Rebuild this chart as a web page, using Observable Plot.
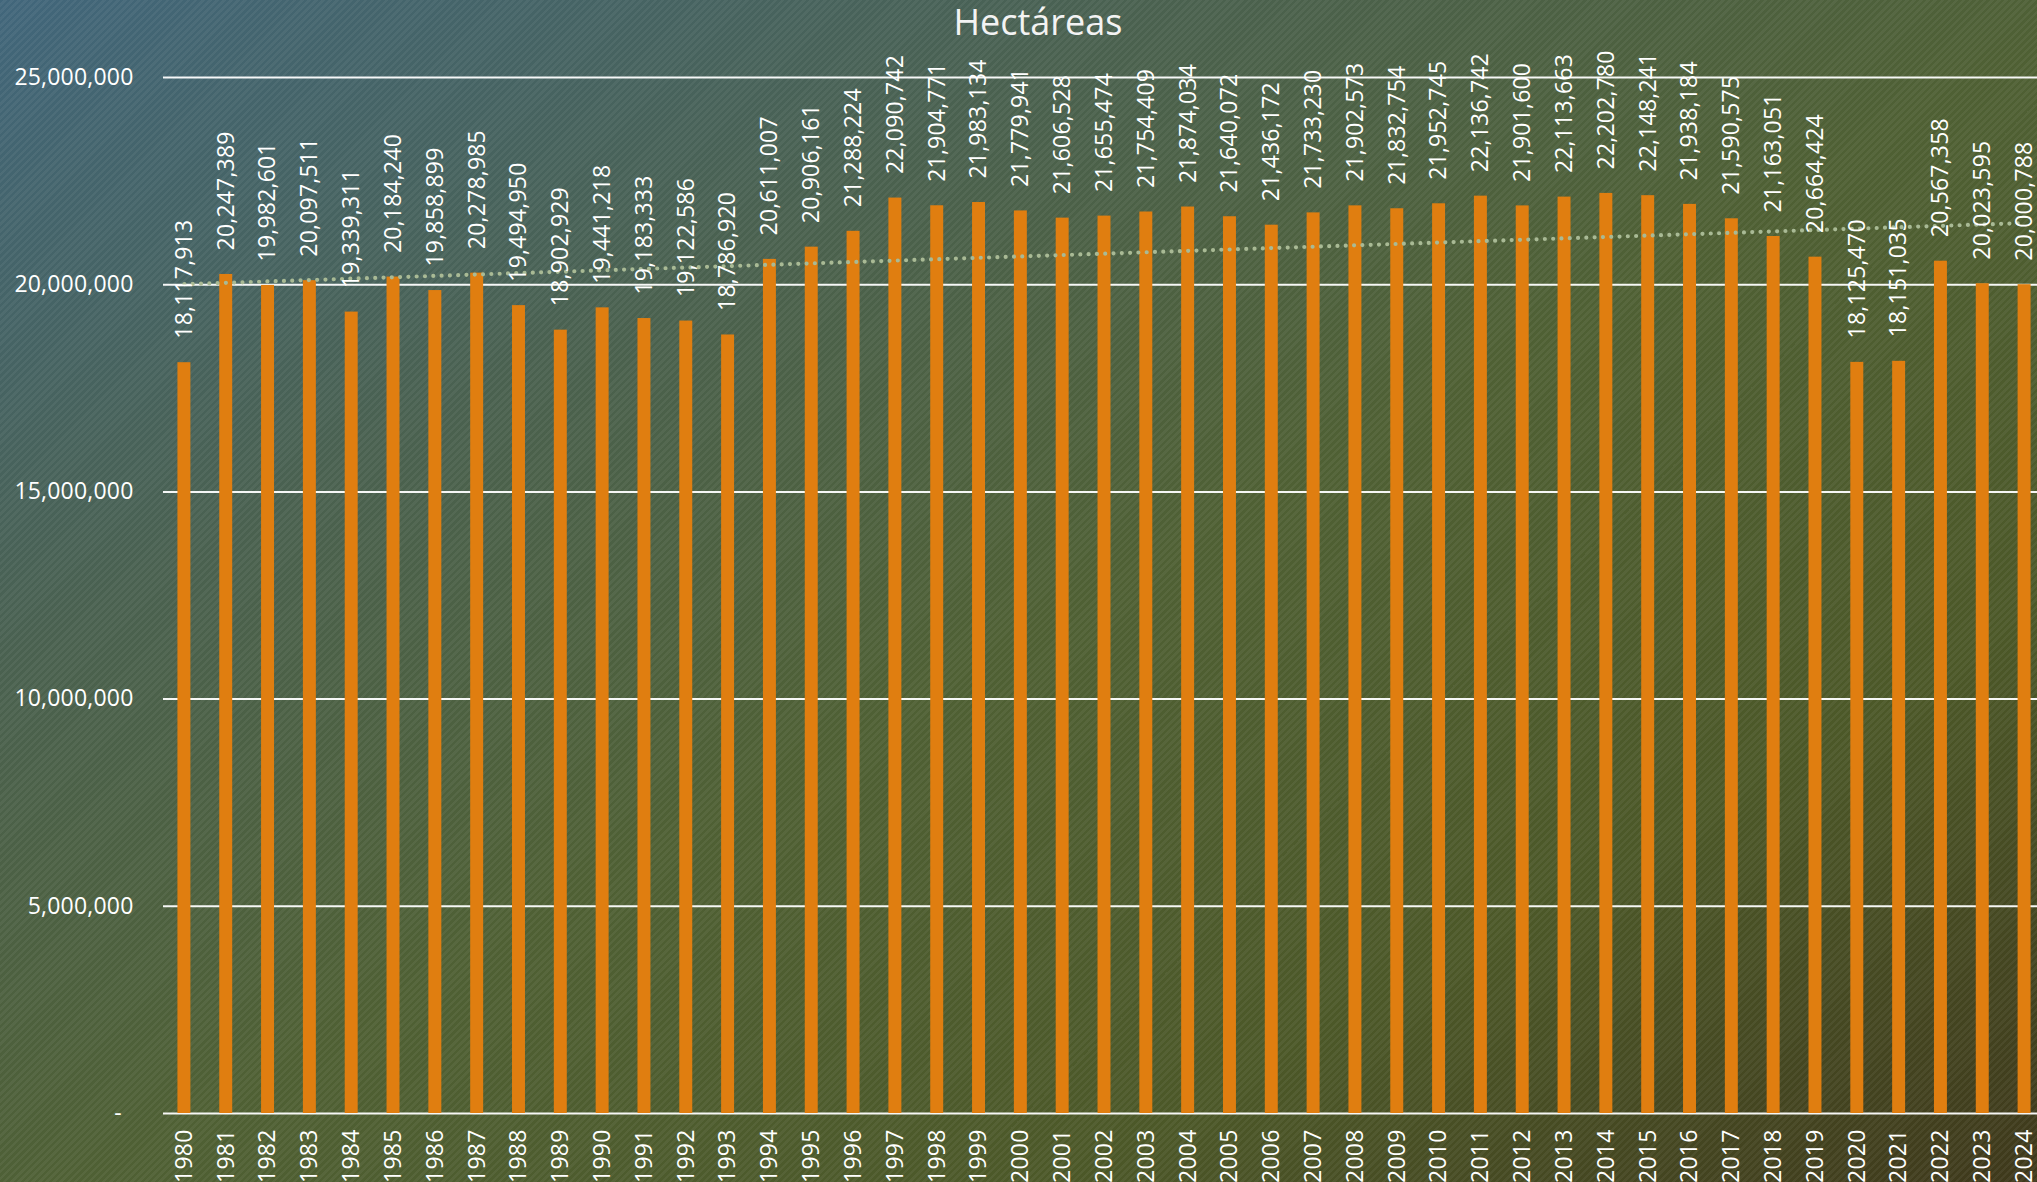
<!DOCTYPE html>
<html>
<head>
<meta charset="utf-8">
<script src="https://cdn.jsdelivr.net/npm/d3@7"></script>
<script src="https://cdn.jsdelivr.net/npm/@observablehq/plot@0.6"></script>
<style>
  html, body { margin: 0; padding: 0; }
  body { width: 2037px; height: 1182px; overflow: hidden; }
  #chart {
    position: relative;
    width: 2037px;
    height: 1182px;
    background:
      repeating-linear-gradient(135deg, rgba(255,255,255,0) 0px, rgba(255,255,255,0) 2.5px, rgba(255,255,255,0.05) 2.5px, rgba(255,255,255,0.05) 5px),
      linear-gradient(to bottom right, #41667b 0%, #4a6150 28%, #4f6034 52%, #4c5828 76%, #3e381b 100%);
    font-family: "Open Sans", sans-serif;
  }
  #title {
    position: absolute;
    left: 888px;
    width: 300px;
    top: 4px;
    text-align: center;
    color: #f3f3f3;
    font-size: 36px;
    line-height: 1;
  }
  #chart svg { position: absolute; left: 0; top: 0; }
  #chart svg text { letter-spacing: 0.2px; }
</style>
</head>
<body>
<div id="chart"><div id="title">Hectáreas</div></div>
<script>
const years = [1980,1981,1982,1983,1984,1985,1986,1987,1988,1989,1990,1991,1992,1993,1994,1995,1996,1997,1998,1999,2000,2001,2002,2003,2004,2005,2006,2007,2008,2009,2010,2011,2012,2013,2014,2015,2016,2017,2018,2019,2020,2021,2022,2023,2024];
const hectareas = [18117913,20247389,19982601,20097511,19339311,20184240,19858899,20278985,19494950,18902929,19441218,19183333,19122586,18786920,20611007,20906161,21288224,22090742,21904771,21983134,21779941,21606528,21655474,21754409,21874034,21640072,21436172,21733230,21902573,21832754,21952745,22136742,21901600,22113663,22202780,22148241,21938184,21590575,21163051,20664424,18125470,18151035,20567358,20023595,20000788];
const yTicks = [0, 5000000, 10000000, 15000000, 20000000, 25000000];

const fmt = d3.format(",");
const data = years.map((y, i) => ({year: String(y), value: hectareas[i], idx: i + 1}));

// Linear trend (least squares) over the series, as in the original chart
const mx = d3.mean(data, d => d.idx);
const my = d3.mean(data, d => d.value);
const slope = d3.sum(data, d => (d.idx - mx) * (d.value - my)) / d3.sum(data, d => (d.idx - mx) ** 2);
const trend = data.map(d => ({year: d.year, value: my + slope * (d.idx - mx)}));

const chart = Plot.plot({
  width: 2037,
  height: 1182,
  marginLeft: 163,
  marginRight: 0,
  marginTop: 77,
  marginBottom: 69,
  style: {background: "transparent", color: "#ffffff", fontFamily: "'Open Sans', sans-serif", fontSize: "23px", overflow: "visible"},
  x: {type: "band", domain: years.map(String), range: [163, 2045], paddingInner: 0.69, paddingOuter: 0.345},
  y: {domain: [0, 25000000], range: [1113, 77]},
  marks: [
    Plot.ruleY(yTicks, {stroke: "#ffffff", strokeWidth: 2, strokeOpacity: 0.95}),
    Plot.barY(data, {x: "year", y: "value", fill: "#e07e10"}),
    Plot.line(trend, {x: "year", y: "value", stroke: "#a9ba95", strokeWidth: 4.2, strokeDasharray: "0 8.3", strokeLinecap: "round"}),
    Plot.text(data, {x: "year", y: "value", text: d => fmt(d.value), rotate: -90, textAnchor: "start", dy: -24, fill: "#ffffff", fontSize: 23}),
    Plot.axisY({ticks: yTicks, tickFormat: d => d === 0 ? "-\u2002" : fmt(d), tickSize: 0, tickPadding: 30, label: null, fontSize: 23}),
    Plot.axisX({tickRotate: -90, tickSize: 0, tickPadding: 16, label: null, fontSize: 23})
  ]
});
document.getElementById("chart").appendChild(chart);
</script>
</body>
</html>
